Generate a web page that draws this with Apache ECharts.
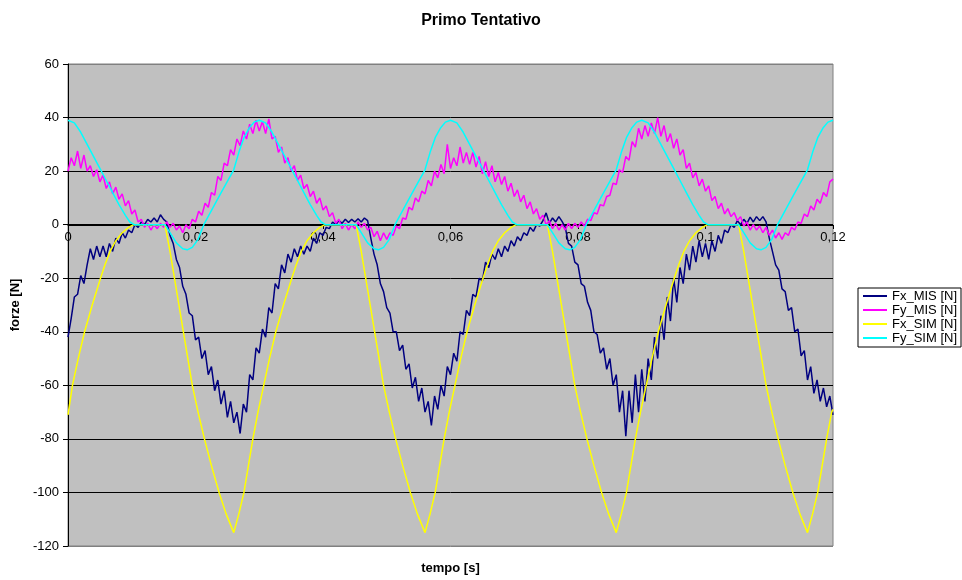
<!DOCTYPE html>
<html>
<head>
<meta charset="utf-8">
<script src="https://cdn.jsdelivr.net/npm/echarts@6/dist/echarts.min.js"></script>
<style>
html,body{margin:0;padding:0;background:#fff;}
#chart{width:962px;height:580px;}
</style>
</head>
<body>
<div id="chart"></div>
<script>
// ---- Data ----
var chartTitle = 'Primo Tentativo';
var xName = 'tempo [s]';
var yName = 'forze [N]';
var seriesNames = ['Fx_MIS [N]', 'Fy_MIS [N]', 'Fx_SIM [N]', 'Fy_SIM [N]'];

// measured samples: time [s]
var misT = [
0,0.0005,0.001,0.0015,0.002,0.0025,0.003,0.0035,0.004,0.0045,0.005,0.0055,0.006,0.0065,0.007,0.0075,0.008,0.0085,0.009,0.0095,
0.01,0.0105,0.011,0.0115,0.012,0.0125,0.013,0.0135,0.014,0.0145,0.015,0.0155,0.016,0.0165,0.017,0.0175,0.018,0.0185,0.019,0.0195,
0.02,0.0205,0.021,0.0215,0.022,0.0225,0.023,0.0235,0.024,0.0245,0.025,0.0255,0.026,0.0265,0.027,0.0275,0.028,0.0285,0.029,0.0295,
0.03,0.0305,0.031,0.0315,0.032,0.0325,0.033,0.0335,0.034,0.0345,0.035,0.0355,0.036,0.0365,0.037,0.0375,0.038,0.0385,0.039,0.0395,
0.04,0.0405,0.041,0.0415,0.042,0.0425,0.043,0.0435,0.044,0.0445,0.045,0.0455,0.046,0.0465,0.047,0.0475,0.048,0.0485,0.049,0.0495,
0.05,0.0505,0.051,0.0515,0.052,0.0525,0.053,0.0535,0.054,0.0545,0.055,0.0555,0.056,0.0565,0.057,0.0575,0.058,0.0585,0.059,0.0595,
0.06,0.0605,0.061,0.0615,0.062,0.0625,0.063,0.0635,0.064,0.0645,0.065,0.0655,0.066,0.0665,0.067,0.0675,0.068,0.0685,0.069,0.0695,
0.07,0.0705,0.071,0.0715,0.072,0.0725,0.073,0.0735,0.074,0.0745,0.075,0.0755,0.076,0.0765,0.077,0.0775,0.078,0.0785,0.079,0.0795,
0.08,0.0805,0.081,0.0815,0.082,0.0825,0.083,0.0835,0.084,0.0845,0.085,0.0855,0.086,0.0865,0.087,0.0875,0.088,0.0885,0.089,0.0895,
0.09,0.0905,0.091,0.0915,0.092,0.0925,0.093,0.0935,0.094,0.0945,0.095,0.0955,0.096,0.0965,0.097,0.0975,0.098,0.0985,0.099,0.0995,
0.1,0.1005,0.101,0.1015,0.102,0.1025,0.103,0.1035,0.104,0.1045,0.105,0.1055,0.106,0.1065,0.107,0.1075,0.108,0.1085,0.109,0.1095,
0.11,0.1105,0.111,0.1115,0.112,0.1125,0.113,0.1135,0.114,0.1145,0.115,0.1155,0.116,0.1165,0.117,0.1175,0.118,0.1185,0.119,0.1195,
0.12
];

var fxMis = [
-42,-35,-27,-26,-19,-22,-15,-9,-13,-8,-12,-8,-12,-7,-10,-5,-7,-3,-5,-2,
-3,0,-1,1,0,2,1,2.5,1,3.7,2,1,-4,-7,-13,-16,-23,-26,-33,-34,
-43,-42,-50,-47,-56,-53,-62,-58,-67,-62,-72,-66,-74,-70,-78,-67,-70,-56,-58,-46,
-48,-39,-42,-31,-33,-22,-24,-15,-18,-11,-14,-9,-12,-8,-11,-8,-10,-5,-7,-3,
-4,-1,-1.5,1,0,1.5,0.5,2,0.8,2,1,2.2,1,2.5,1.5,-5,-11,-15,-22,-25,
-31,-33,-40,-40,-47,-45,-54,-52,-61,-57,-66,-61,-70,-66,-75,-64,-69,-60,-64,-53,
-56,-48,-51,-40,-41,-32,-34,-26,-27,-20,-21,-14,-16,-11,-13,-9,-12,-8,-10,-6,
-8,-4.5,-6,-3,-4,-1,-2.5,0,-0.5,1.5,4.4,0.5,2.5,1,3,1.2,-1,-7,-8,-14,
-15,-22,-23,-29,-32,-40,-41,-48,-46,-54,-50,-60,-56,-70,-62,-79,-62,-74,-56,-70,
-54,-66,-50,-58,-42,-50,-34,-43,-27,-36,-20,-29,-16,-22,-11,-17,-8,-14,-6,-12,
-7,-13,-6,-10,-4,-7,-2,-3,0,-1,1.5,0,2,0.5,2.8,1,3,1.5,3,1,
-5,-10,-15,-17,-24,-25,-32,-31,-40,-39,-49,-47,-58,-53,-63,-58,-66,-61,-68,-64,
-71
];

var fyMis = [
20,25,22,27.5,21,26,20,22,18,20.5,16,18.5,13.5,16,11.5,14,9.5,11.5,7,9,
4,5.5,1,2,-1,0.5,-2,0,-1.5,0.5,-1,1,-1,0.5,-2,-0.5,-3,0,-1.5,2,
1,5,3.5,8,6.5,12,11,18,16.5,23,22,28,26,32,29.5,35,32,37.5,34,39,
35,38.5,34,39.5,32,33,27,29,23,25,20,22,16.5,18.5,13.5,15,10.5,12.5,8,10,
5.5,7,3,4.5,0.5,2,-1.5,0.5,-2,0,-1.5,1,-1,0.5,-2,-1,-4.5,-2.5,-6,-3,
-5.5,-3,-4,-0.5,-1.5,2.5,2,6.5,5.5,10,8.5,12.5,11.5,16.5,14.5,20,17.5,22.5,19,30,
21,25,22,29,23,27,22.5,27,21.5,25.5,19,23.5,18,22,16,19.5,15,18,12.5,15.5,
10.5,13,8.5,11,6,8.5,4,6,2,3.5,0,1.5,-1.5,0.5,-2,0,-2,0.5,-1.5,0.5,
-1,1,-0.5,2,1.5,4.5,4,7.5,7,10.5,11,15.5,15,20.5,19.5,25.5,24,31,29,36,
32,37,33,38,34,40,33,37,31,34,28.5,32,26,28,21,23,17.5,19.5,14.5,17,
12.5,14.5,9,10.5,6,8,4,6,3,4.5,1.5,3,-0.5,1,-2,0,-2,-0.5,-3,-1,
-4,-2,-5,-3,-5.5,-3,-4,-1,-2,1,0.5,4,3,7,5.5,9.5,8,12,10.5,16,
17
];

// simulated Fx
var fxSimT = [
0,0.0007,0.0016,0.0026,0.0038,0.0051,0.0058,0.0066,0.0075,0.0085,0.0095,0.0103,0.0152,0.016,0.0167,0.0174,0.0181,0.0188,0.0195,0.0204,0.0214,0.0225,0.0237,0.0248,0.026,
0.0268,0.0276,0.0283,0.029,0.0298,0.0307,0.0316,0.0326,0.0338,0.0351,0.0358,0.0366,0.0375,0.0385,0.0395,0.0403,0.0452,0.046,0.0467,0.0474,0.0481,0.0488,0.0495,0.0504,0.0514,0.0525,0.0537,0.0548,0.056,
0.0568,0.0576,0.0583,0.059,0.0598,0.0607,0.0616,0.0626,0.0638,0.0651,0.0658,0.0666,0.0675,0.0685,0.0695,0.0703,0.0752,0.076,0.0767,0.0774,0.0781,0.0788,0.0795,0.0804,0.0814,0.0825,0.0837,0.0848,0.086,
0.0868,0.0876,0.0883,0.089,0.0898,0.0907,0.0916,0.0926,0.0938,0.0951,0.0958,0.0966,0.0975,0.0985,0.0995,0.1003,0.1052,0.106,0.1067,0.1074,0.1081,0.1088,0.1095,0.1104,0.1114,0.1125,0.1137,0.1148,0.116,
0.1168,0.1176,0.1183,0.119,0.1198,0.12
];
var fxSim = [
-71,-60,-50,-40,-30,-20,-15,-10,-6,-3,-1,0,0,-10,-20,-30,-40,-50,-60,-70,-80,-90,-100,-108,-115,
-108,-100,-90,-80,-70,-60,-50,-40,-30,-20,-15,-10,-6,-3,-1,0,0,-10,-20,-30,-40,-50,-60,-70,-80,-90,-100,-108,-115,
-108,-100,-90,-80,-70,-60,-50,-40,-30,-20,-15,-10,-6,-3,-1,0,0,-10,-20,-30,-40,-50,-60,-70,-80,-90,-100,-108,-115,
-108,-100,-90,-80,-70,-60,-50,-40,-30,-20,-15,-10,-6,-3,-1,0,0,-10,-20,-30,-40,-50,-60,-70,-80,-90,-100,-108,-115,
-108,-100,-90,-80,-70,-69
];

// simulated Fy
var fySimT = [
0,0.001,0.002,0.003,0.004,0.005,0.006,0.007,0.008,0.009,0.0097,0.0104,0.0152,0.016,0.017,0.018,0.0187,0.0195,0.0204,0.0213,0.022,0.023,0.024,0.025,0.026,0.0268,0.0276,0.0284,0.0292,
0.03,0.031,0.032,0.033,0.034,0.035,0.036,0.037,0.038,0.039,0.0397,0.0404,0.0452,0.046,0.047,0.048,0.0487,0.0495,0.0504,0.0513,0.052,0.053,0.054,0.055,0.056,0.0568,0.0576,0.0584,0.0592,
0.06,0.061,0.062,0.063,0.064,0.065,0.066,0.067,0.068,0.069,0.0697,0.0704,0.0752,0.076,0.077,0.078,0.0787,0.0795,0.0804,0.0813,0.082,0.083,0.084,0.085,0.086,0.0868,0.0876,0.0884,0.0892,
0.09,0.091,0.092,0.093,0.094,0.095,0.096,0.097,0.098,0.099,0.0997,0.1004,0.1052,0.106,0.107,0.108,0.1087,0.1095,0.1104,0.1113,0.112,0.113,0.114,0.115,0.116,0.1168,0.1176,0.1184,0.1192,
0.12
];
var fySim = [
39,38,34.5,30,25.5,21,16.5,12,7.5,3.5,1,0,0,-3,-6.8,-9,-9.4,-8.5,-5.5,0,3.1,7.5,11.9,16.2,20.5,27,32.5,36,38.3,
39,38,34.5,30,25.5,21,16.5,12,7.5,3.5,1,0,0,-3,-6.8,-9,-9.4,-8.5,-5.5,0,3.1,7.5,11.9,16.2,20.5,27,32.5,36,38.3,
39,38,34.5,30,25.5,21,16.5,12,7.5,3.5,1,0,0,-3,-6.8,-9,-9.4,-8.5,-5.5,0,3.1,7.5,11.9,16.2,20.5,27,32.5,36,38.3,
39,38,34.5,30,25.5,21,16.5,12,7.5,3.5,1,0,0,-3,-6.8,-9,-9.4,-8.5,-5.5,0,3.1,7.5,11.9,16.2,20.5,27,32.5,36,38.3,
39
];

var seriesColors = ['#000080', '#FF00FF', '#FFFF00', '#00FFFF'];

function zip(xs, ys) {
  var out = [];
  for (var i = 0; i < xs.length; i++) out.push([xs[i], ys[i]]);
  return out;
}

var FONT = '"Liberation Sans", Arial, sans-serif';
var chart = echarts.init(document.getElementById('chart'), null, {renderer: 'canvas'});

function mkLine(name, data, color) {
  return {
    name: name, type: 'line', data: data,
    showSymbol: false, symbol: 'none', smooth: false,
    lineStyle: {color: color, width: 1.5},
    itemStyle: {color: color},
    emphasis: {disabled: true},
    animation: false
  };
}

chart.setOption({
  animation: false,
  backgroundColor: '#ffffff',
  textStyle: {fontFamily: FONT, color: '#000'},
  title: {
    text: chartTitle, left: 'center', top: 8,
    textStyle: {fontFamily: FONT, fontSize: 16, fontWeight: 'bold', color: '#000'}
  },
  legend: {
    orient: 'vertical', left: 858, top: 288,
    padding: [1, 4, 2, 5], itemGap: 0,
    itemWidth: 24, itemHeight: 2, icon: 'rect',
    borderColor: '#000', borderWidth: 1, backgroundColor: '#fff',
    textStyle: {fontFamily: FONT, fontSize: 13, color: '#000', lineHeight: 14},
    data: seriesNames
  },
  grid: {
    left: 68, right: 129, top: 64, bottom: 34,
    containLabel: false, outerBoundsMode: 'none',
    show: true, backgroundColor: '#C0C0C0', borderColor: '#808080', borderWidth: 1
  },
  xAxis: {
    type: 'value', min: 0, max: 0.12, interval: 0.02,
    position: 'bottom', offset: -321,
    name: xName, nameLocation: 'middle', nameGap: 337,
    nameTextStyle: {fontFamily: FONT, fontSize: 13, fontWeight: 'bold', color: '#000'},
    axisLine: {onZero: false, lineStyle: {color: '#000', width: 1}},
    axisTick: {show: true, inside: false, length: 4, lineStyle: {color: '#000'}},
    axisLabel: {
      fontFamily: FONT, fontSize: 13, color: '#000', margin: 6,
      formatter: function (v) { return String(+v.toFixed(4)).replace('.', ','); }
    },
    splitLine: {show: false}
  },
  yAxis: {
    type: 'value', min: -120, max: 60, interval: 20,
    name: yName, nameLocation: 'middle', nameGap: 39, nameRotate: 90,
    nameTextStyle: {fontFamily: FONT, fontSize: 13, fontWeight: 'bold', color: '#000'},
    axisLine: {show: true, lineStyle: {color: '#000', width: 1}},
    axisTick: {show: true, inside: false, length: 5, lineStyle: {color: '#000'}},
    axisLabel: {fontFamily: FONT, fontSize: 13, color: '#000', margin: 9},
    splitLine: {show: true, lineStyle: {
      color: ['#808080', '#000', '#000', '#000', '#000', '#000', '#000', '#000', '#000', '#808080'],
      width: 1
    }}
  },
  series: [
    mkLine(seriesNames[0], zip(misT, fxMis), seriesColors[0]),
    mkLine(seriesNames[1], zip(misT, fyMis), seriesColors[1]),
    mkLine(seriesNames[2], zip(fxSimT, fxSim), seriesColors[2]),
    mkLine(seriesNames[3], zip(fySimT, fySim), seriesColors[3])
  ]
});
</script>
</body>
</html>
